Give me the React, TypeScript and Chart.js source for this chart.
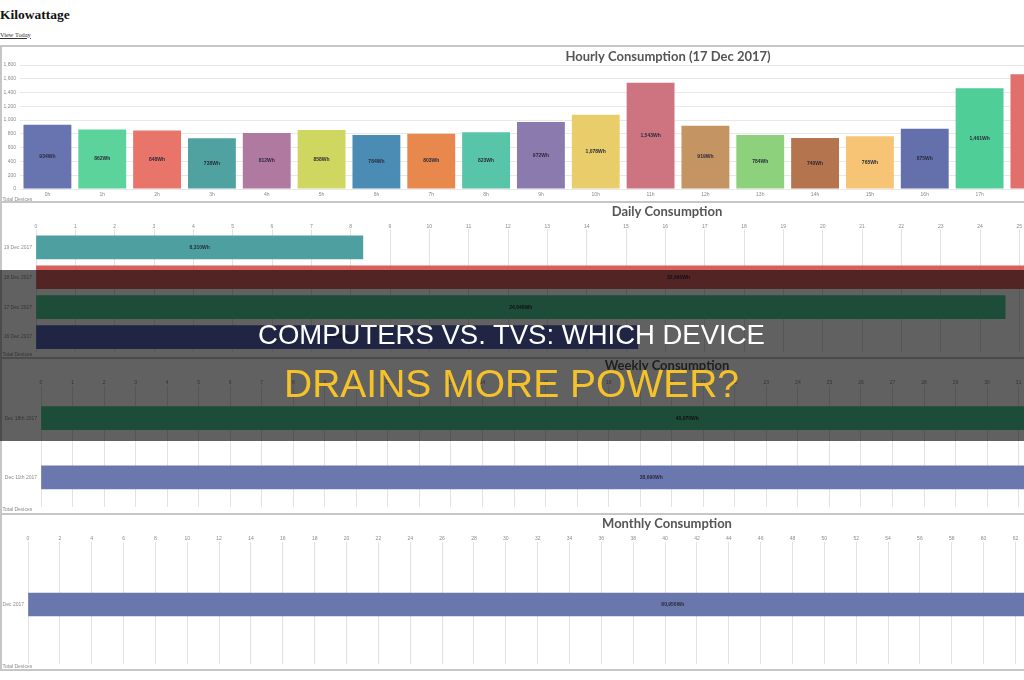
import React, { useEffect, useRef } from "react";
import { Chart, registerables } from "chart.js";

Chart.register(...registerables);

// ---- data ----
const hourLabels = [
  "0h", "1h", "2h", "3h", "4h", "5h", "6h", "7h", "8h", "9h", "10h", "11h",
  "12h", "13h", "14h", "15h", "16h", "17h", "18h", "19h", "20h", "21h", "22h", "23h",
];
const hourlyWh = [
  934, 862, 848, 738, 812, 858, 784, 803, 823, 972, 1078, 1543,
  919, 784, 740, 765, 875, 1461, 1665, 1500, 1360, 1270, 1190, 1056,
];
const hourColors = [
  "rgb(103,116,176)", "rgb(93,211,156)", "rgb(232,116,106)", "rgb(80,162,160)",
  "rgb(176,122,160)", "rgb(207,215,96)", "rgb(74,140,180)", "rgb(232,136,76)",
  "rgb(88,196,168)", "rgb(139,122,174)", "rgb(233,205,106)", "rgb(206,116,128)",
  "rgb(196,148,98)", "rgb(142,209,124)", "rgb(180,116,78)", "rgb(247,196,118)",
  "rgb(100,112,171)", "rgb(79,206,152)", "rgb(225,112,108)", "rgb(80,162,160)",
  "rgb(176,122,160)", "rgb(207,215,96)", "rgb(74,140,180)", "rgb(232,136,76)",
];

const dayLabels = ["19 Dec 2017", "18 Dec 2017", "17 Dec 2017", "16 Dec 2017"];
const dailyKwh = [8.31, 32.66, 24.64, 15.3];
const dayColors = ["rgb(78,160,160)", "rgb(215,95,92)", "rgb(76,200,150)", "rgb(84,98,176)"];

const weekLabels = ["Dec 18th 2017", "Dec 11th 2017"];
const weeklyKwh = [40.97, 38.69];
const weekColors = ["rgb(76,200,150)", "rgb(107,120,175)"];

const monthLabels = ["Dec 2017"];
const monthlyKwh = [80.95];
const monthColors = ["rgb(106,119,173)"];

const seriesName = "Total Devices";

// ---- shared styling ----
const tickFont = { family: "'Liberation Sans', Arial, sans-serif", size: 5 };
const tickColor = "#8a8a8a";
const titleFontSize = 13;
const CANVAS_W = 1340;

const whLabel = (v: number) => Math.round(v).toLocaleString("en-US") + "Wh";
const kwhLabel = (v: number) => Math.round(v * 1000).toLocaleString("en-US") + "Wh";

// draws each bar's value in the middle of the bar
function valueLabels(format: (v: number) => string) {
  return {
    id: "valueLabels",
    afterDatasetsDraw(chart: any) {
      const { ctx } = chart;
      const meta = chart.getDatasetMeta(0);
      const values = chart.data.datasets[0].data as number[];
      ctx.save();
      ctx.font = "bold 5px 'Liberation Sans', Arial, sans-serif";
      ctx.fillStyle = "#2a2a3a";
      ctx.textAlign = "center";
      ctx.textBaseline = "middle";
      meta.data.forEach((el: any, i: number) => {
        const p = el.getCenterPoint();
        ctx.fillText(format(values[i]), p.x, p.y);
      });
      ctx.restore();
    },
  };
}

function titleOpts(text: string, padTop: number, padBottom: number) {
  return {
    display: true,
    text,
    color: "#555",
    font: { family: "Lato, 'Open Sans', sans-serif", size: titleFontSize, weight: "bold" as const },
    padding: { top: padTop, bottom: padBottom },
  };
}

const legendOpts = {
  display: true,
  position: "bottom" as const,
  align: "start" as const,
  maxHeight: 6,
  labels: {
    boxWidth: 0,
    boxHeight: 0,
    padding: 0,
    color: "#8a8a8a",
    font: tickFont,
  },
};

function hourlyConfig(): any {
  return {
    type: "bar",
    data: {
      labels: hourLabels,
      datasets: [
        {
          label: seriesName,
          data: hourlyWh,
          backgroundColor: hourColors,
          borderWidth: 0,
          categoryPercentage: 0.97,
          barPercentage: 0.9,
        },
      ],
    },
    options: {
      responsive: false,
      animation: false,
      layout: { padding: { left: 0, right: 4, top: 0, bottom: 0 } },
      plugins: {
        title: titleOpts("Hourly Consumption (17 Dec 2017)", 2.2, 0.2),
        legend: legendOpts,
        tooltip: { enabled: false },
      },
      scales: {
        x: {
          grid: { display: false, drawTicks: false },
          border: { display: false },
          ticks: { font: tickFont, color: tickColor, padding: 3, maxRotation: 0 },
          afterFit: (s: any) => {
            s.height = 8;
          },
        },
        y: {
          beginAtZero: true,
          ticks: { stepSize: 200, font: tickFont, color: tickColor, padding: 4 },
          grid: { color: "#e8e8e8", drawTicks: false },
          border: { display: false },
          afterFit: (s: any) => {
            s.width = 20;
          },
        },
      },
    },
    plugins: [valueLabels(whLabel)],
  };
}

function horizontalConfig(
  title: string,
  labels: string[],
  values: number[],
  colors: string[],
  step: number,
  axisWidth: number,
  titlePadTop: number,
  topAxisHeight: number
): any {
  return {
    type: "bar",
    data: {
      labels,
      datasets: [
        {
          label: seriesName,
          data: values,
          backgroundColor: colors,
          borderWidth: 0,
          barThickness: 23,
        },
      ],
    },
    options: {
      indexAxis: "y",
      responsive: false,
      animation: false,
      layout: { padding: { left: 0, right: 6, top: 0, bottom: 0 } },
      plugins: {
        title: titleOpts(title, titlePadTop, 0),
        legend: legendOpts,
        tooltip: { enabled: false },
      },
      scales: {
        x: {
          position: "top",
          beginAtZero: true,
          ticks: {
            stepSize: step,
            font: tickFont,
            color: tickColor,
            padding: 0,
            maxRotation: 0,
            autoSkip: false,
          },
          grid: { color: "#e2e2e2", tickLength: 3 },
          border: { display: false },
          afterFit: (s: any) => {
            s.height = topAxisHeight;
          },
        },
        y: {
          grid: { display: false, drawTicks: false },
          border: { display: false },
          ticks: { font: tickFont, color: tickColor, padding: 4 },
          afterFit: (s: any) => {
            s.width = axisWidth;
          },
        },
      },
    },
    plugins: [valueLabels(kwhLabel)],
  };
}

function ChartCanvas({ top, height, make }: { top: number; height: number; make: () => any }) {
  const ref = useRef<HTMLCanvasElement>(null);
  useEffect(() => {
    const chart = new Chart(ref.current as HTMLCanvasElement, make());
    return () => chart.destroy();
  }, []);
  return (
    <canvas
      ref={ref}
      width={CANVAS_W}
      height={height}
      style={{ position: "absolute", left: 0, top, width: CANVAS_W, height, display: "block" }}
    />
  );
}

const rule = (top: number): React.CSSProperties => ({
  position: "absolute",
  left: 0,
  top,
  width: 1340,
  height: 2,
  background: "#c6c6c6",
});

export default function App() {
  return (
    <div
      style={{
        position: "fixed",
        left: 0,
        top: 0,
        width: 1024,
        height: 680,
        overflow: "hidden",
        background: "#fff",
      }}
    >
      <div
        style={{
          position: "absolute",
          left: 0,
          top: 8,
          fontFamily: "'Liberation Serif', 'Times New Roman', serif",
          fontWeight: "bold",
          fontSize: 13.5,
          lineHeight: 1,
          color: "#111",
          whiteSpace: "nowrap",
        }}
      >
        Kilowattage
      </div>
      <div
        style={{
          position: "absolute",
          left: 0,
          top: 31.6,
          fontFamily: "'Liberation Serif', 'Times New Roman', serif",
          fontSize: 6.4,
          lineHeight: 1,
          color: "#333",
          textDecoration: "underline",
          whiteSpace: "nowrap",
        }}
      >
        View Today
      </div>

      <ChartCanvas top={47} height={156} make={hourlyConfig} />
      <ChartCanvas
        top={203}
        height={156}
        make={() => horizontalConfig("Daily Consumption", dayLabels, dailyKwh, dayColors, 1, 36, 1.2, 12.6)}
      />
      <ChartCanvas
        top={358}
        height={156}
        make={() => horizontalConfig("Weekly Consumption", weekLabels, weeklyKwh, weekColors, 1, 41, 0.2, 14.7)}
      />
      <ChartCanvas
        top={514}
        height={157}
        make={() => horizontalConfig("Monthly Consumption", monthLabels, monthlyKwh, monthColors, 2, 28, 2.2, 13.2)}
      />

      <div style={rule(45)} />
      <div style={rule(201)} />
      <div style={rule(357)} />
      <div style={rule(513)} />
      <div style={rule(669)} />
      <div style={{ position: "absolute", left: 0, top: 45, width: 2, height: 626, background: "#c6c6c6" }} />

      <div
        style={{
          position: "absolute",
          left: 0,
          top: 270,
          width: 1024,
          height: 171,
          background: "rgba(0,0,0,0.62)",
        }}
      />
      <div
        style={{
          position: "absolute",
          left: 0,
          top: 320.7,
          width: 1023,
          textAlign: "center",
          fontFamily: "'Liberation Sans', Arial, sans-serif",
          fontSize: 27.5,
          lineHeight: 1,
          color: "#ffffff",
          whiteSpace: "nowrap",
        }}
      >
        COMPUTERS VS. TVS: WHICH DEVICE
      </div>
      <div
        style={{
          position: "absolute",
          left: 0,
          top: 364,
          width: 1023,
          textAlign: "center",
          fontFamily: "'Liberation Sans', Arial, sans-serif",
          fontSize: 39,
          lineHeight: 1,
          color: "#f5c22a",
          whiteSpace: "nowrap",
        }}
      >
        DRAINS MORE POWER?
      </div>
    </div>
  );
}
